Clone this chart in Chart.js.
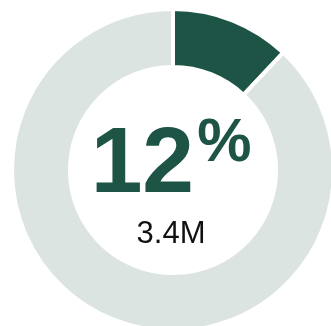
<!DOCTYPE html>
<html>
<head>
<meta charset="utf-8">
<script src="https://cdn.jsdelivr.net/npm/chart.js@4/dist/chart.umd.min.js"></script>
<style>
  html, body { margin: 0; padding: 0; background: #ffffff; overflow: hidden; width: 331px; height: 326px; }
  #c { position: absolute; left: 0; top: 0; }
</style>
</head>
<body>
<canvas id="c" width="346" height="340"></canvas>
<script>
const categories = ["Share", "Rest"];
const values = [12, 88];
const percentLabel = "12";
const percentSign = "%";
const subLabel = "3.4M";
const colors = ["#1d5446", "#dce4e1"];

const centerText = {
  id: 'centerText',
  afterDraw(chart) {
    const arc = chart.getDatasetMeta(0).data[0];
    const cx = arc.x, cy = arc.y;
    const ctx = chart.ctx;
    ctx.save();
    ctx.fillStyle = colors[0];
    ctx.textBaseline = 'alphabetic';
    ctx.textAlign = 'left';
    ctx.font = 'bold 93px "Liberation Sans", Arial, sans-serif';
    const m1 = ctx.measureText(percentLabel);
    ctx.font = 'bold 61px "Liberation Sans", Arial, sans-serif';
    const m2 = ctx.measureText(percentSign);
    const w1 = m1.actualBoundingBoxLeft + m1.actualBoundingBoxRight;
    const w2 = m2.actualBoundingBoxLeft + m2.actualBoundingBoxRight;
    const gap = 8;
    const total = w1 + gap + w2;
    const startX = cx - total / 2;
    const base = cy + 22;
    ctx.font = 'bold 93px "Liberation Sans", Arial, sans-serif';
    ctx.fillText(percentLabel, startX + m1.actualBoundingBoxLeft, base);
    ctx.font = 'bold 61px "Liberation Sans", Arial, sans-serif';
    const pTop = cy - 52;
    ctx.fillText(percentSign, startX + w1 + gap + m2.actualBoundingBoxLeft, pTop + m2.actualBoundingBoxAscent);
    ctx.fillStyle = '#111111';
    ctx.textAlign = 'center';
    ctx.font = '31px "Liberation Sans", Arial, sans-serif';
    ctx.fillText(subLabel, cx - 2, cy + 73);
    ctx.restore();
  }
};

new Chart(document.getElementById('c'), {
  type: 'doughnut',
  data: {
    labels: categories,
    datasets: [{
      data: values,
      backgroundColor: colors,
      hoverBackgroundColor: colors,
      borderColor: '#ffffff',
      hoverBorderColor: '#ffffff',
      borderWidth: 4,
      hoverBorderWidth: 4
    }]
  },
  options: {
    responsive: false,
    animation: false,
    cutout: '64%',
    layout: { padding: { left: 10, right: 10, top: 7, bottom: 7 } },
    plugins: { legend: { display: false }, tooltip: { enabled: false } },
    events: []
  },
  plugins: [centerText]
});
</script>
</body>
</html>
